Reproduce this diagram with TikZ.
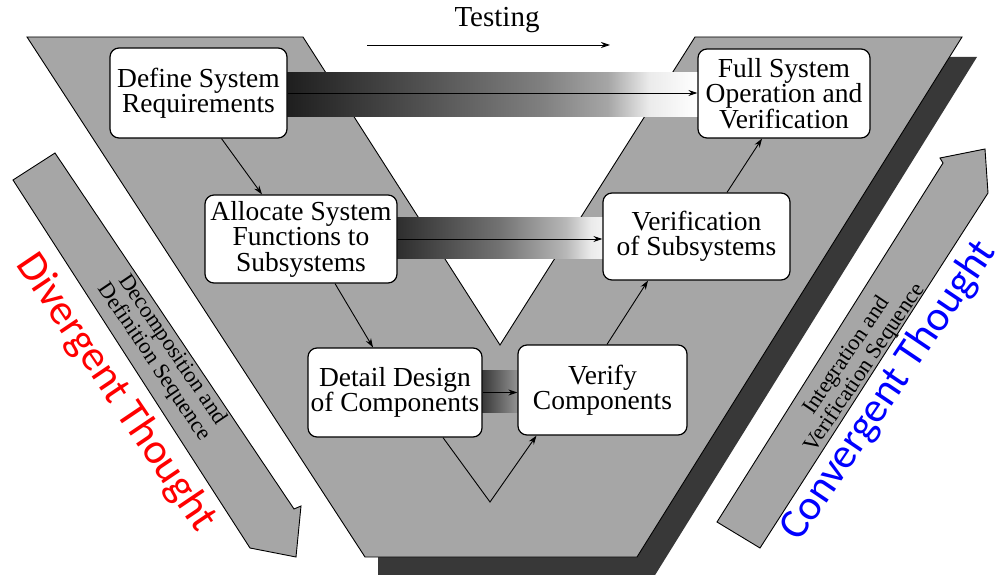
\documentclass[tikz,border=0pt]{standalone}
\usepackage{fontspec}
\setmainfont{Liberation Serif}
\newfontfamily\calfont{Carlito}
\usetikzlibrary{arrows.meta,calc}
\pgfdeclarehorizontalshading{bandtop}{100bp}{color(0bp)=(black!88); color(25bp)=(black!88); color(40bp)=(black!70); color(56bp)=(black!50); color(64bp)=(black!35); color(69bp)=(black!8); color(75bp)=(white); color(100bp)=(white)}
\pgfdeclarehorizontalshading{bandmid}{100bp}{color(0bp)=(black!82); color(25bp)=(black!82); color(50bp)=(black!55); color(66bp)=(black!28); color(72bp)=(black!8); color(75bp)=(black!5); color(100bp)=(black!5)}
\pgfdeclarehorizontalshading{bandlow}{100bp}{color(0bp)=(black!78); color(25bp)=(black!78); color(75bp)=(black!42); color(100bp)=(black!42)}
\definecolor{vgray}{gray}{0.65}
\definecolor{shadowgray}{gray}{0.22}
\begin{document}
\begin{tikzpicture}[x=1pt,y=-1pt,
  box/.style={draw, line width=1.2pt, fill=white, rounded corners=9pt, align=center,
    font=\fontsize{27.5}{25.5}\selectfont, inner sep=0pt},
  arr/.style={line width=0.9pt, -{Stealth[length=9pt,width=6pt]}},
  outline/.style={draw=black, line width=0.9pt}]
\useasboundingbox (0,0) rectangle (997,575);

% shadow
\fill[shadowgray] (977,57) -- (652,580) -- (378,580) -- (378,550) -- (600,350) -- (940,57) -- cycle;
% main V
\filldraw[fill=vgray, outline] (27,37) -- (303,37) -- (500,345) -- (695,37) -- (962,37) -- (637,557) -- (365,557) -- cycle;

% side arrows
\filldraw[fill=vgray, outline] (13,180) -- (55,153) -- (294,509) -- (301,506) -- (296,557) -- (250,548) -- cycle;
\filldraw[fill=vgray, outline] (717,522) -- (943,163) -- (940,158) -- (985,149) -- (988,193) -- (760,548) -- cycle;

% shaded bands
\shade[shading=bandtop] (287,73) rectangle (698,117);
\shade[shading=bandmid] (397,218) rectangle (603,258);
\shade[shading=bandlow] (482,370) rectangle (518,412);

% boxes
\node[box, minimum width=177pt, minimum height=90pt] (b1) at (198.5,93) {Define System\\Requirements};
\node[box, minimum width=192pt, minimum height=88pt] (b2) at (301,239) {Allocate System\\Functions to\\Subsystems};
\node[box, minimum width=174pt, minimum height=89pt] (b3) at (395,392.5) {Detail Design\\of Components};
\node[box, minimum width=169pt, minimum height=90pt] (b4) at (602.5,390) {Verify\\Components};
\node[box, minimum width=187pt, minimum height=87pt] (b5) at (696.5,236.5) {Verification\\of Subsystems};
\node[box, minimum width=172pt, minimum height=89pt] (b6) at (784,93.5) {Full System\\Operation and\\Verification};

% connectors
\draw[arr] ([xshift=23pt]b1.south) -- ([xshift=-39pt]b2.north);
\draw[arr] ([xshift=34pt]b2.south) -- ([xshift=-22pt]b3.north);
\coordinate (vb) at (490,502);
\draw[arr] ([xshift=48pt]b3.south) -- (vb) -- ([xshift=-66pt]b4.south);
\draw[arr] ([xshift=4.5pt]b4.north) -- ([xshift=-48.5pt]b5.south);
\draw[arr] ([xshift=30.5pt]b5.north) -- ([xshift=-22pt]b6.south);
\draw[arr] (b1.east) -- (b1.east -| b6.west);
\draw[arr] (b2.east) -- (b2.east -| b5.west);
\draw[arr] (b3.east) -- (b3.east -| b4.west);

% testing
\node[font=\fontsize{29}{30}\selectfont] (test) at (497,20) {Testing};
\coordinate (ts) at (367,45);
\coordinate (te) at (610,45);
\draw[arr] (ts) -- (te);

% sequence labels
\node[rotate=-56, align=center, font=\fontsize{22.5}{22}\selectfont] (dec) at (163,356) {Decomposition and\\Definition Sequence};
\node[rotate=56, align=center, font=\fontsize{22.5}{22}\selectfont] (intg) at (856,362) {Integration and\\Verification Sequence};

% thought labels
\node[rotate=-56, text=red, font=\calfont\fontsize{43}{43}\selectfont] (div) at (116,393) {Divergent Thought};
\node[rotate=56, text=blue, font=\calfont\fontsize{42.5}{43}\selectfont] (conv) at (889,391) {Convergent Thought};
\end{tikzpicture}
\end{document}
